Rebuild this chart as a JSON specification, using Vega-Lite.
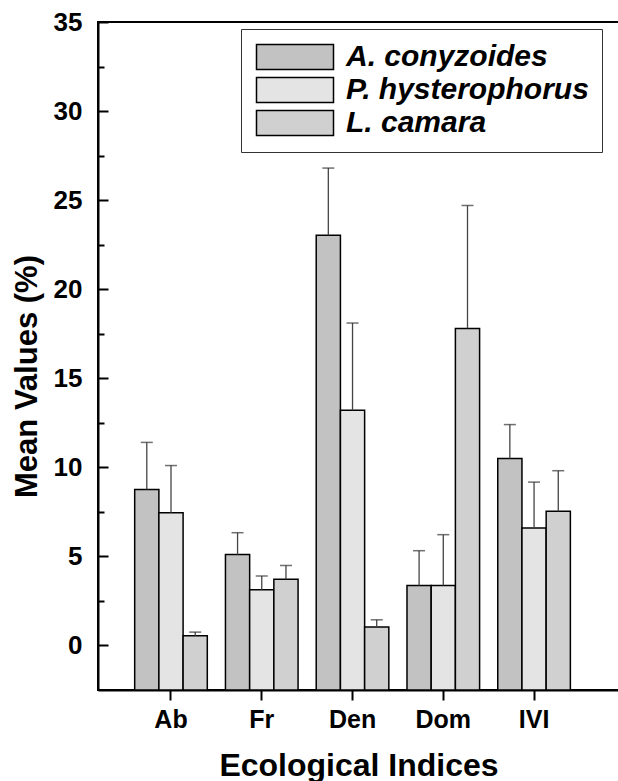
{
  "$schema": "https://vega.github.io/schema/vega-lite/v6.json",
  "width": 521,
  "height": 668,
  "autosize": {"type": "none"},
  "padding": {"left": 98, "top": 22, "right": 0, "bottom": 91},
  "background": "white",
  "config": {
    "font": "Liberation Sans",
    "view": {"stroke": "black", "strokeWidth": 2},
    "axis": {
      "domainColor": "black", "domainWidth": 2, "tickColor": "black", "tickWidth": 2,
      "labelColor": "black", "titleColor": "black", "grid": false,
      "labelFont": "Liberation Sans", "titleFont": "Liberation Sans",
      "labelFontWeight": "bold", "titleFontWeight": "bold"
    }
  },
  "data": {
    "values": [
      {"index": "Ab", "species": "A. conyzoides", "mean": 8.75, "upper": 11.4},
      {"index": "Ab", "species": "P. hysterophorus", "mean": 7.45, "upper": 10.1},
      {"index": "Ab", "species": "L. camara", "mean": 0.55, "upper": 0.75},
      {"index": "Fr", "species": "A. conyzoides", "mean": 5.1, "upper": 6.33},
      {"index": "Fr", "species": "P. hysterophorus", "mean": 3.13, "upper": 3.9},
      {"index": "Fr", "species": "L. camara", "mean": 3.72, "upper": 4.49},
      {"index": "Den", "species": "A. conyzoides", "mean": 23.03, "upper": 26.8},
      {"index": "Den", "species": "P. hysterophorus", "mean": 13.2, "upper": 18.1},
      {"index": "Den", "species": "L. camara", "mean": 1.03, "upper": 1.44},
      {"index": "Dom", "species": "A. conyzoides", "mean": 3.37, "upper": 5.32},
      {"index": "Dom", "species": "P. hysterophorus", "mean": 3.37, "upper": 6.22},
      {"index": "Dom", "species": "L. camara", "mean": 17.8, "upper": 24.7},
      {"index": "IVI", "species": "A. conyzoides", "mean": 10.49, "upper": 12.4},
      {"index": "IVI", "species": "P. hysterophorus", "mean": 6.59, "upper": 9.17},
      {"index": "IVI", "species": "L. camara", "mean": 7.54, "upper": 9.81}
    ]
  },
  "resolve": {"axis": {"y": "independent"}},
  "layer": [
    {
      "mark": {"type": "bar", "stroke": "black", "strokeWidth": 1.5, "opacity": 1},
      "encoding": {
        "x": {
          "field": "index", "type": "nominal", "sort": ["Ab", "Fr", "Den", "Dom", "IVI"],
          "scale": {"paddingInner": 0.2, "paddingOuter": 0.47, "align": 0.43},
          "axis": {"title": "Ecological Indices", "titleFontSize": 32, "labelFontSize": 25, "labelAngle": 0,
                   "tickSize": 10, "labelPadding": 7, "titleBaseline": "alphabetic", "titleY": 85}
        },
        "xOffset": {"field": "species", "type": "nominal",
                    "sort": ["A. conyzoides", "P. hysterophorus", "L. camara"],
                    "scale": {"paddingInner": 0, "paddingOuter": 0}},
        "y": {
          "field": "mean", "type": "quantitative",
          "scale": {"domain": [-2.5, 35], "nice": false, "zero": false},
          "axis": {"title": "Mean Values (%)", "titleFontSize": 31, "labelFontSize": 26,
                   "values": [0, 5, 10, 15, 20, 25, 30, 35], "tickSize": -10, "labelPadding": 26,
                   "orient": "left", "titleX": -71, "titleY": 354, "titleBaseline": "middle", "titleAngle": -90}
        },
        "y2": {"datum": -2.5},
        "fill": {
          "field": "species", "type": "nominal",
          "sort": ["A. conyzoides", "P. hysterophorus", "L. camara"],
          "scale": {"range": ["#c2c2c2", "#e4e4e4", "#d0d0d0"]},
          "legend": {
            "orient": "none", "legendX": 143, "legendY": 7, "title": null,
            "strokeColor": "#333", "padding": 13, "fillColor": "white",
            "symbolType": "M-1,-1H5.16V1H-1Z", "symbolSize": 625,
            "symbolStrokeColor": "black", "symbolStrokeWidth": 1.5, "symbolOpacity": 1,
            "labelFontSize": 30, "labelFont": "Liberation Sans", "labelFontWeight": "bold",
            "labelFontStyle": "italic", "labelColor": "black", "labelOffset": 62, "rowPadding": 1,
            "labelLimit": 500
          }
        }
      }
    },
    {
      "mark": {"type": "rule", "color": "#444", "strokeWidth": 1.3},
      "encoding": {
        "x": {"field": "index", "type": "nominal", "sort": ["Ab", "Fr", "Den", "Dom", "IVI"]},
        "xOffset": {"field": "species", "type": "nominal", "sort": ["A. conyzoides", "P. hysterophorus", "L. camara"]},
        "y": {"field": "mean", "type": "quantitative",
              "axis": {"values": [2.5, 7.5, 12.5, 17.5, 22.5, 27.5, 32.5], "tickSize": -6, "labels": false,
                       "domain": false, "title": null, "orient": "left"}},
        "y2": {"field": "upper"}
      }
    },
    {
      "mark": {"type": "tick", "color": "#333", "size": 12, "thickness": 1.5},
      "encoding": {
        "x": {"field": "index", "type": "nominal", "sort": ["Ab", "Fr", "Den", "Dom", "IVI"]},
        "xOffset": {"field": "species", "type": "nominal", "sort": ["A. conyzoides", "P. hysterophorus", "L. camara"]},
        "y": {"field": "upper", "type": "quantitative", "axis": null}
      }
    }
  ]
}
